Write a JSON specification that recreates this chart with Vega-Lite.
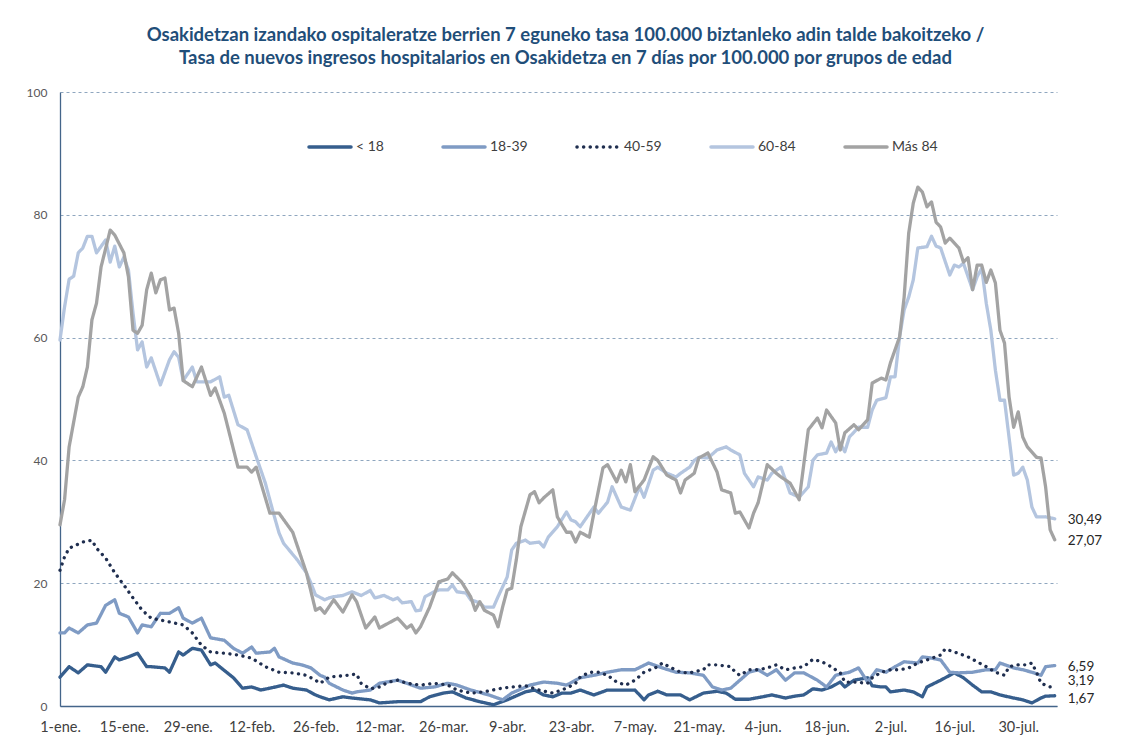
{
"$schema": "https://vega.github.io/schema/vega-lite/v6.json",
"width": 997, "height": 614,
"autosize": "none",
"padding": {"left": 60, "top": 92, "right": 67, "bottom": 31},
"background": "white",
"config": {
  "locale": {"number": {"decimal": ",", "thousands": ".", "grouping": [3], "currency": ["", " €"]}},
  "view": {"stroke": null},
  "font": "Lato"
},
"title": {"text": ["Osakidetzan izandako ospitaleratze berrien 7 eguneko tasa 100.000 biztanleko adin talde bakoitzeko /", "Tasa de nuevos ingresos hospitalarios en Osakidetza en 7 días por 100.000 por grupos de edad"], "fontSize": 18.5, "fontWeight": "bold", "color": "#1F4E79", "font": "Lato", "lineHeight": 23, "anchor": "middle", "offset": 19, "dx": 7},
"data": {"values": [
{"dia":0,"grupo":"< 18","tasa":4.7},{"dia":2,"grupo":"< 18","tasa":6.4},{"dia":4,"grupo":"< 18","tasa":5.4},{"dia":6,"grupo":"< 18","tasa":6.7},{"dia":9,"grupo":"< 18","tasa":6.4},{"dia":10,"grupo":"< 18","tasa":5.5},{"dia":12,"grupo":"< 18","tasa":8},{"dia":13,"grupo":"< 18","tasa":7.5},{"dia":15,"grupo":"< 18","tasa":8},{"dia":17,"grupo":"< 18","tasa":8.6},{"dia":19,"grupo":"< 18","tasa":6.4},{"dia":20,"grupo":"< 18","tasa":6.4},{"dia":23,"grupo":"< 18","tasa":6.2},{"dia":24,"grupo":"< 18","tasa":5.5},{"dia":26,"grupo":"< 18","tasa":8.8},{"dia":27,"grupo":"< 18","tasa":8.3},{"dia":29,"grupo":"< 18","tasa":9.4},{"dia":31,"grupo":"< 18","tasa":9.1},{"dia":33,"grupo":"< 18","tasa":6.7},{"dia":34,"grupo":"< 18","tasa":7},{"dia":38,"grupo":"< 18","tasa":4.6},{"dia":40,"grupo":"< 18","tasa":2.9},{"dia":42,"grupo":"< 18","tasa":3.1},{"dia":44,"grupo":"< 18","tasa":2.6},{"dia":46,"grupo":"< 18","tasa":2.9},{"dia":49,"grupo":"< 18","tasa":3.4},{"dia":51,"grupo":"< 18","tasa":2.9},{"dia":54,"grupo":"< 18","tasa":2.6},{"dia":56,"grupo":"< 18","tasa":1.8},{"dia":57,"grupo":"< 18","tasa":1.5},{"dia":59,"grupo":"< 18","tasa":1},{"dia":62,"grupo":"< 18","tasa":1.5},{"dia":64,"grupo":"< 18","tasa":1.3},{"dia":68,"grupo":"< 18","tasa":1},{"dia":70,"grupo":"< 18","tasa":0.5},{"dia":74,"grupo":"< 18","tasa":0.7},{"dia":79,"grupo":"< 18","tasa":0.7},{"dia":81,"grupo":"< 18","tasa":1.5},{"dia":84,"grupo":"< 18","tasa":2.1},{"dia":86,"grupo":"< 18","tasa":2.3},{"dia":89,"grupo":"< 18","tasa":1.3},{"dia":92,"grupo":"< 18","tasa":0.7},{"dia":95,"grupo":"< 18","tasa":0.2},{"dia":98,"grupo":"< 18","tasa":1},{"dia":102,"grupo":"< 18","tasa":2.3},{"dia":104,"grupo":"< 18","tasa":2.6},{"dia":106,"grupo":"< 18","tasa":1.8},{"dia":108,"grupo":"< 18","tasa":1.5},{"dia":110,"grupo":"< 18","tasa":2.1},{"dia":112,"grupo":"< 18","tasa":2.1},{"dia":114,"grupo":"< 18","tasa":2.6},{"dia":117,"grupo":"< 18","tasa":1.8},{"dia":120,"grupo":"< 18","tasa":2.6},{"dia":123,"grupo":"< 18","tasa":2.6},{"dia":126,"grupo":"< 18","tasa":2.6},{"dia":128,"grupo":"< 18","tasa":1},{"dia":129,"grupo":"< 18","tasa":1.8},{"dia":131,"grupo":"< 18","tasa":2.4},{"dia":133,"grupo":"< 18","tasa":1.8},{"dia":136,"grupo":"< 18","tasa":1.8},{"dia":138,"grupo":"< 18","tasa":1},{"dia":141,"grupo":"< 18","tasa":2.1},{"dia":144,"grupo":"< 18","tasa":2.4},{"dia":146,"grupo":"< 18","tasa":2.1},{"dia":148,"grupo":"< 18","tasa":1.1},{"dia":151,"grupo":"< 18","tasa":1.1},{"dia":154,"grupo":"< 18","tasa":1.5},{"dia":156,"grupo":"< 18","tasa":1.8},{"dia":159,"grupo":"< 18","tasa":1.3},{"dia":161,"grupo":"< 18","tasa":1.6},{"dia":163,"grupo":"< 18","tasa":1.8},{"dia":165,"grupo":"< 18","tasa":2.8},{"dia":167,"grupo":"< 18","tasa":2.6},{"dia":169,"grupo":"< 18","tasa":3.1},{"dia":171,"grupo":"< 18","tasa":3.9},{"dia":172,"grupo":"< 18","tasa":3.1},{"dia":174,"grupo":"< 18","tasa":4.2},{"dia":177,"grupo":"< 18","tasa":4.6},{"dia":178,"grupo":"< 18","tasa":3.3},{"dia":180,"grupo":"< 18","tasa":3.1},{"dia":181,"grupo":"< 18","tasa":3.1},{"dia":182,"grupo":"< 18","tasa":2.3},{"dia":185,"grupo":"< 18","tasa":2.6},{"dia":187,"grupo":"< 18","tasa":2.3},{"dia":189,"grupo":"< 18","tasa":1.5},{"dia":190,"grupo":"< 18","tasa":3.1},{"dia":193,"grupo":"< 18","tasa":4.2},{"dia":196,"grupo":"< 18","tasa":5.4},{"dia":198,"grupo":"< 18","tasa":4.6},{"dia":200,"grupo":"< 18","tasa":3.4},{"dia":202,"grupo":"< 18","tasa":2.3},{"dia":204,"grupo":"< 18","tasa":2.3},{"dia":206,"grupo":"< 18","tasa":1.8},{"dia":209,"grupo":"< 18","tasa":1.3},{"dia":211,"grupo":"< 18","tasa":1},{"dia":213,"grupo":"< 18","tasa":0.5},{"dia":215,"grupo":"< 18","tasa":1.3},{"dia":216,"grupo":"< 18","tasa":1.6},{"dia":218,"grupo":"< 18","tasa":1.67},
{"dia":0,"grupo":"18-39","tasa":11.9},{"dia":1,"grupo":"18-39","tasa":11.9},{"dia":2,"grupo":"18-39","tasa":12.7},{"dia":4,"grupo":"18-39","tasa":11.9},{"dia":6,"grupo":"18-39","tasa":13.2},{"dia":8,"grupo":"18-39","tasa":13.5},{"dia":10,"grupo":"18-39","tasa":16.4},{"dia":12,"grupo":"18-39","tasa":17.3},{"dia":13,"grupo":"18-39","tasa":15.1},{"dia":15,"grupo":"18-39","tasa":14.5},{"dia":17,"grupo":"18-39","tasa":11.9},{"dia":18,"grupo":"18-39","tasa":13.2},{"dia":20,"grupo":"18-39","tasa":12.9},{"dia":22,"grupo":"18-39","tasa":15.1},{"dia":23,"grupo":"18-39","tasa":15.1},{"dia":24,"grupo":"18-39","tasa":15.1},{"dia":26,"grupo":"18-39","tasa":16},{"dia":27,"grupo":"18-39","tasa":14.3},{"dia":29,"grupo":"18-39","tasa":13.5},{"dia":31,"grupo":"18-39","tasa":14.3},{"dia":33,"grupo":"18-39","tasa":11.1},{"dia":36,"grupo":"18-39","tasa":10.7},{"dia":38,"grupo":"18-39","tasa":9.4},{"dia":40,"grupo":"18-39","tasa":8.6},{"dia":42,"grupo":"18-39","tasa":9.6},{"dia":43,"grupo":"18-39","tasa":8.6},{"dia":46,"grupo":"18-39","tasa":8.8},{"dia":47,"grupo":"18-39","tasa":9.4},{"dia":48,"grupo":"18-39","tasa":8},{"dia":51,"grupo":"18-39","tasa":7},{"dia":53,"grupo":"18-39","tasa":6.7},{"dia":55,"grupo":"18-39","tasa":6.2},{"dia":57,"grupo":"18-39","tasa":5},{"dia":58,"grupo":"18-39","tasa":4.7},{"dia":59,"grupo":"18-39","tasa":3.7},{"dia":62,"grupo":"18-39","tasa":2.6},{"dia":64,"grupo":"18-39","tasa":2.1},{"dia":65,"grupo":"18-39","tasa":2.3},{"dia":68,"grupo":"18-39","tasa":2.6},{"dia":70,"grupo":"18-39","tasa":3.7},{"dia":74,"grupo":"18-39","tasa":4.2},{"dia":76,"grupo":"18-39","tasa":3.7},{"dia":79,"grupo":"18-39","tasa":2.9},{"dia":82,"grupo":"18-39","tasa":3.1},{"dia":85,"grupo":"18-39","tasa":3.7},{"dia":87,"grupo":"18-39","tasa":3.4},{"dia":90,"grupo":"18-39","tasa":2.6},{"dia":94,"grupo":"18-39","tasa":1.8},{"dia":97,"grupo":"18-39","tasa":1},{"dia":99,"grupo":"18-39","tasa":2.1},{"dia":103,"grupo":"18-39","tasa":3.4},{"dia":106,"grupo":"18-39","tasa":3.9},{"dia":109,"grupo":"18-39","tasa":3.7},{"dia":111,"grupo":"18-39","tasa":3.4},{"dia":114,"grupo":"18-39","tasa":4.6},{"dia":117,"grupo":"18-39","tasa":5},{"dia":120,"grupo":"18-39","tasa":5.5},{"dia":123,"grupo":"18-39","tasa":5.9},{"dia":126,"grupo":"18-39","tasa":5.9},{"dia":129,"grupo":"18-39","tasa":7},{"dia":132,"grupo":"18-39","tasa":6.2},{"dia":135,"grupo":"18-39","tasa":5.5},{"dia":138,"grupo":"18-39","tasa":5.4},{"dia":141,"grupo":"18-39","tasa":5},{"dia":143,"grupo":"18-39","tasa":3.1},{"dia":145,"grupo":"18-39","tasa":2.6},{"dia":147,"grupo":"18-39","tasa":2.9},{"dia":149,"grupo":"18-39","tasa":4.2},{"dia":151,"grupo":"18-39","tasa":5.5},{"dia":153,"grupo":"18-39","tasa":5.9},{"dia":155,"grupo":"18-39","tasa":5},{"dia":157,"grupo":"18-39","tasa":5.9},{"dia":159,"grupo":"18-39","tasa":4.2},{"dia":161,"grupo":"18-39","tasa":5.4},{"dia":163,"grupo":"18-39","tasa":5.4},{"dia":166,"grupo":"18-39","tasa":4.2},{"dia":168,"grupo":"18-39","tasa":3.1},{"dia":170,"grupo":"18-39","tasa":5},{"dia":173,"grupo":"18-39","tasa":5.5},{"dia":175,"grupo":"18-39","tasa":6.2},{"dia":177,"grupo":"18-39","tasa":3.9},{"dia":179,"grupo":"18-39","tasa":5.9},{"dia":181,"grupo":"18-39","tasa":5.5},{"dia":183,"grupo":"18-39","tasa":6.4},{"dia":185,"grupo":"18-39","tasa":7.2},{"dia":188,"grupo":"18-39","tasa":7},{"dia":189,"grupo":"18-39","tasa":8},{"dia":191,"grupo":"18-39","tasa":7.8},{"dia":193,"grupo":"18-39","tasa":7.5},{"dia":195,"grupo":"18-39","tasa":5.5},{"dia":197,"grupo":"18-39","tasa":5.4},{"dia":200,"grupo":"18-39","tasa":5.5},{"dia":203,"grupo":"18-39","tasa":5.9},{"dia":205,"grupo":"18-39","tasa":5.9},{"dia":206,"grupo":"18-39","tasa":7},{"dia":209,"grupo":"18-39","tasa":6.2},{"dia":211,"grupo":"18-39","tasa":5.9},{"dia":213,"grupo":"18-39","tasa":5.5},{"dia":215,"grupo":"18-39","tasa":5},{"dia":216,"grupo":"18-39","tasa":6.4},{"dia":218,"grupo":"18-39","tasa":6.59},
{"dia":0,"grupo":"40-59","tasa":22.1},{"dia":1,"grupo":"40-59","tasa":24.3},{"dia":2,"grupo":"40-59","tasa":25.7},{"dia":5,"grupo":"40-59","tasa":26.7},{"dia":7,"grupo":"40-59","tasa":27},{"dia":8,"grupo":"40-59","tasa":25.7},{"dia":10,"grupo":"40-59","tasa":24.1},{"dia":12,"grupo":"40-59","tasa":21.7},{"dia":14,"grupo":"40-59","tasa":19.7},{"dia":16,"grupo":"40-59","tasa":17.6},{"dia":18,"grupo":"40-59","tasa":15.6},{"dia":20,"grupo":"40-59","tasa":14.3},{"dia":22,"grupo":"40-59","tasa":14},{"dia":24,"grupo":"40-59","tasa":13.7},{"dia":27,"grupo":"40-59","tasa":13.2},{"dia":29,"grupo":"40-59","tasa":11.9},{"dia":31,"grupo":"40-59","tasa":9.9},{"dia":33,"grupo":"40-59","tasa":8.8},{"dia":36,"grupo":"40-59","tasa":8.6},{"dia":39,"grupo":"40-59","tasa":8.3},{"dia":42,"grupo":"40-59","tasa":7.8},{"dia":45,"grupo":"40-59","tasa":6.4},{"dia":48,"grupo":"40-59","tasa":5.5},{"dia":51,"grupo":"40-59","tasa":5.4},{"dia":54,"grupo":"40-59","tasa":5},{"dia":56,"grupo":"40-59","tasa":4.2},{"dia":57,"grupo":"40-59","tasa":3.7},{"dia":59,"grupo":"40-59","tasa":4.7},{"dia":63,"grupo":"40-59","tasa":5},{"dia":65,"grupo":"40-59","tasa":5.2},{"dia":66,"grupo":"40-59","tasa":3.7},{"dia":68,"grupo":"40-59","tasa":2.8},{"dia":70,"grupo":"40-59","tasa":3.1},{"dia":72,"grupo":"40-59","tasa":3.9},{"dia":74,"grupo":"40-59","tasa":4.2},{"dia":76,"grupo":"40-59","tasa":3.7},{"dia":79,"grupo":"40-59","tasa":3.4},{"dia":82,"grupo":"40-59","tasa":3.7},{"dia":85,"grupo":"40-59","tasa":3.4},{"dia":87,"grupo":"40-59","tasa":2.6},{"dia":90,"grupo":"40-59","tasa":2.1},{"dia":93,"grupo":"40-59","tasa":2.3},{"dia":96,"grupo":"40-59","tasa":2.8},{"dia":99,"grupo":"40-59","tasa":3.1},{"dia":102,"grupo":"40-59","tasa":3.3},{"dia":105,"grupo":"40-59","tasa":2.6},{"dia":108,"grupo":"40-59","tasa":2.1},{"dia":111,"grupo":"40-59","tasa":2.9},{"dia":113,"grupo":"40-59","tasa":3.7},{"dia":114,"grupo":"40-59","tasa":4.7},{"dia":116,"grupo":"40-59","tasa":5.5},{"dia":118,"grupo":"40-59","tasa":5.5},{"dia":120,"grupo":"40-59","tasa":5},{"dia":122,"grupo":"40-59","tasa":3.9},{"dia":124,"grupo":"40-59","tasa":3.4},{"dia":126,"grupo":"40-59","tasa":4.2},{"dia":128,"grupo":"40-59","tasa":5.5},{"dia":131,"grupo":"40-59","tasa":6.4},{"dia":132,"grupo":"40-59","tasa":7},{"dia":134,"grupo":"40-59","tasa":6.2},{"dia":136,"grupo":"40-59","tasa":5.5},{"dia":138,"grupo":"40-59","tasa":5.4},{"dia":141,"grupo":"40-59","tasa":5.9},{"dia":142,"grupo":"40-59","tasa":6.7},{"dia":144,"grupo":"40-59","tasa":6.7},{"dia":147,"grupo":"40-59","tasa":6.4},{"dia":148,"grupo":"40-59","tasa":5.5},{"dia":149,"grupo":"40-59","tasa":5},{"dia":151,"grupo":"40-59","tasa":5.9},{"dia":153,"grupo":"40-59","tasa":5.9},{"dia":155,"grupo":"40-59","tasa":6.2},{"dia":157,"grupo":"40-59","tasa":6.7},{"dia":159,"grupo":"40-59","tasa":5.9},{"dia":161,"grupo":"40-59","tasa":6.2},{"dia":163,"grupo":"40-59","tasa":6.4},{"dia":165,"grupo":"40-59","tasa":7.6},{"dia":167,"grupo":"40-59","tasa":7.2},{"dia":169,"grupo":"40-59","tasa":6.4},{"dia":171,"grupo":"40-59","tasa":5.4},{"dia":172,"grupo":"40-59","tasa":3.9},{"dia":174,"grupo":"40-59","tasa":3.9},{"dia":177,"grupo":"40-59","tasa":3.7},{"dia":178,"grupo":"40-59","tasa":4.6},{"dia":180,"grupo":"40-59","tasa":5.5},{"dia":182,"grupo":"40-59","tasa":5.9},{"dia":184,"grupo":"40-59","tasa":5.9},{"dia":186,"grupo":"40-59","tasa":6.2},{"dia":188,"grupo":"40-59","tasa":7},{"dia":190,"grupo":"40-59","tasa":7.5},{"dia":193,"grupo":"40-59","tasa":8.3},{"dia":194,"grupo":"40-59","tasa":9.3},{"dia":196,"grupo":"40-59","tasa":8.8},{"dia":199,"grupo":"40-59","tasa":8},{"dia":201,"grupo":"40-59","tasa":7.2},{"dia":203,"grupo":"40-59","tasa":6.4},{"dia":205,"grupo":"40-59","tasa":5.5},{"dia":207,"grupo":"40-59","tasa":5},{"dia":208,"grupo":"40-59","tasa":6.4},{"dia":210,"grupo":"40-59","tasa":6.7},{"dia":212,"grupo":"40-59","tasa":6.7},{"dia":213,"grupo":"40-59","tasa":7},{"dia":214,"grupo":"40-59","tasa":5.5},{"dia":215,"grupo":"40-59","tasa":3.7},{"dia":217,"grupo":"40-59","tasa":3.1},{"dia":218,"grupo":"40-59","tasa":3.19},
{"dia":0,"grupo":"60-84","tasa":59.6},{"dia":1,"grupo":"60-84","tasa":65},{"dia":2,"grupo":"60-84","tasa":69.5},{"dia":3,"grupo":"60-84","tasa":70},{"dia":4,"grupo":"60-84","tasa":73.8},{"dia":5,"grupo":"60-84","tasa":74.6},{"dia":6,"grupo":"60-84","tasa":76.5},{"dia":7,"grupo":"60-84","tasa":76.5},{"dia":8,"grupo":"60-84","tasa":73.8},{"dia":10,"grupo":"60-84","tasa":75.9},{"dia":11,"grupo":"60-84","tasa":72.3},{"dia":12,"grupo":"60-84","tasa":74.9},{"dia":13,"grupo":"60-84","tasa":71.5},{"dia":14,"grupo":"60-84","tasa":73.1},{"dia":15,"grupo":"60-84","tasa":71},{"dia":16,"grupo":"60-84","tasa":64},{"dia":17,"grupo":"60-84","tasa":58},{"dia":18,"grupo":"60-84","tasa":59.3},{"dia":19,"grupo":"60-84","tasa":55.2},{"dia":20,"grupo":"60-84","tasa":56.7},{"dia":22,"grupo":"60-84","tasa":52.3},{"dia":24,"grupo":"60-84","tasa":56.4},{"dia":25,"grupo":"60-84","tasa":57.7},{"dia":26,"grupo":"60-84","tasa":56.8},{"dia":27,"grupo":"60-84","tasa":53},{"dia":29,"grupo":"60-84","tasa":55.2},{"dia":30,"grupo":"60-84","tasa":52.8},{"dia":33,"grupo":"60-84","tasa":52.8},{"dia":35,"grupo":"60-84","tasa":53.6},{"dia":36,"grupo":"60-84","tasa":50.3},{"dia":37,"grupo":"60-84","tasa":50.6},{"dia":39,"grupo":"60-84","tasa":45.8},{"dia":41,"grupo":"60-84","tasa":45},{"dia":43,"grupo":"60-84","tasa":40.6},{"dia":45,"grupo":"60-84","tasa":36.3},{"dia":47,"grupo":"60-84","tasa":30.8},{"dia":48,"grupo":"60-84","tasa":28.2},{"dia":49,"grupo":"60-84","tasa":26.5},{"dia":52,"grupo":"60-84","tasa":23.8},{"dia":54,"grupo":"60-84","tasa":21.7},{"dia":55,"grupo":"60-84","tasa":20},{"dia":56,"grupo":"60-84","tasa":18.1},{"dia":58,"grupo":"60-84","tasa":17.3},{"dia":59,"grupo":"60-84","tasa":17.6},{"dia":60,"grupo":"60-84","tasa":17.8},{"dia":62,"grupo":"60-84","tasa":18},{"dia":64,"grupo":"60-84","tasa":18.6},{"dia":66,"grupo":"60-84","tasa":18},{"dia":68,"grupo":"60-84","tasa":18.8},{"dia":69,"grupo":"60-84","tasa":17.6},{"dia":71,"grupo":"60-84","tasa":18},{"dia":73,"grupo":"60-84","tasa":17.3},{"dia":74,"grupo":"60-84","tasa":17.6},{"dia":75,"grupo":"60-84","tasa":16.8},{"dia":77,"grupo":"60-84","tasa":17},{"dia":78,"grupo":"60-84","tasa":15.5},{"dia":79,"grupo":"60-84","tasa":15.6},{"dia":80,"grupo":"60-84","tasa":17.8},{"dia":82,"grupo":"60-84","tasa":18.6},{"dia":83,"grupo":"60-84","tasa":18.9},{"dia":85,"grupo":"60-84","tasa":18.9},{"dia":86,"grupo":"60-84","tasa":19.7},{"dia":87,"grupo":"60-84","tasa":18.6},{"dia":89,"grupo":"60-84","tasa":18.4},{"dia":90,"grupo":"60-84","tasa":17.3},{"dia":92,"grupo":"60-84","tasa":16.8},{"dia":93,"grupo":"60-84","tasa":16.1},{"dia":95,"grupo":"60-84","tasa":16.1},{"dia":96,"grupo":"60-84","tasa":17.8},{"dia":98,"grupo":"60-84","tasa":21},{"dia":99,"grupo":"60-84","tasa":25.4},{"dia":100,"grupo":"60-84","tasa":26.5},{"dia":102,"grupo":"60-84","tasa":27},{"dia":103,"grupo":"60-84","tasa":26.5},{"dia":105,"grupo":"60-84","tasa":26.7},{"dia":106,"grupo":"60-84","tasa":25.9},{"dia":107,"grupo":"60-84","tasa":27.5},{"dia":109,"grupo":"60-84","tasa":29.2},{"dia":111,"grupo":"60-84","tasa":31.6},{"dia":112,"grupo":"60-84","tasa":30.3},{"dia":113,"grupo":"60-84","tasa":30},{"dia":114,"grupo":"60-84","tasa":29.2},{"dia":117,"grupo":"60-84","tasa":32.4},{"dia":118,"grupo":"60-84","tasa":31.4},{"dia":120,"grupo":"60-84","tasa":33.2},{"dia":121,"grupo":"60-84","tasa":35.7},{"dia":123,"grupo":"60-84","tasa":32.4},{"dia":125,"grupo":"60-84","tasa":31.9},{"dia":127,"grupo":"60-84","tasa":35.7},{"dia":128,"grupo":"60-84","tasa":34},{"dia":130,"grupo":"60-84","tasa":38.4},{"dia":131,"grupo":"60-84","tasa":38.9},{"dia":133,"grupo":"60-84","tasa":37.9},{"dia":135,"grupo":"60-84","tasa":37.3},{"dia":136,"grupo":"60-84","tasa":37.9},{"dia":138,"grupo":"60-84","tasa":38.9},{"dia":139,"grupo":"60-84","tasa":40},{"dia":140,"grupo":"60-84","tasa":40.5},{"dia":142,"grupo":"60-84","tasa":40.4},{"dia":144,"grupo":"60-84","tasa":41.7},{"dia":146,"grupo":"60-84","tasa":42.2},{"dia":147,"grupo":"60-84","tasa":41.7},{"dia":149,"grupo":"60-84","tasa":40.9},{"dia":150,"grupo":"60-84","tasa":37.9},{"dia":152,"grupo":"60-84","tasa":35.7},{"dia":153,"grupo":"60-84","tasa":37.3},{"dia":155,"grupo":"60-84","tasa":36.8},{"dia":156,"grupo":"60-84","tasa":37.9},{"dia":158,"grupo":"60-84","tasa":38.9},{"dia":159,"grupo":"60-84","tasa":36.8},{"dia":160,"grupo":"60-84","tasa":34.7},{"dia":162,"grupo":"60-84","tasa":34},{"dia":164,"grupo":"60-84","tasa":35.7},{"dia":165,"grupo":"60-84","tasa":40},{"dia":166,"grupo":"60-84","tasa":40.9},{"dia":168,"grupo":"60-84","tasa":41.2},{"dia":169,"grupo":"60-84","tasa":43},{"dia":170,"grupo":"60-84","tasa":41.4},{"dia":171,"grupo":"60-84","tasa":42.8},{"dia":172,"grupo":"60-84","tasa":41.4},{"dia":173,"grupo":"60-84","tasa":43.8},{"dia":175,"grupo":"60-84","tasa":45.4},{"dia":177,"grupo":"60-84","tasa":45.4},{"dia":178,"grupo":"60-84","tasa":48.2},{"dia":179,"grupo":"60-84","tasa":49.8},{"dia":181,"grupo":"60-84","tasa":50.2},{"dia":182,"grupo":"60-84","tasa":53.6},{"dia":183,"grupo":"60-84","tasa":53.6},{"dia":184,"grupo":"60-84","tasa":60.1},{"dia":185,"grupo":"60-84","tasa":64.5},{"dia":186,"grupo":"60-84","tasa":66.6},{"dia":187,"grupo":"60-84","tasa":69.4},{"dia":188,"grupo":"60-84","tasa":74.6},{"dia":190,"grupo":"60-84","tasa":74.8},{"dia":191,"grupo":"60-84","tasa":76.5},{"dia":192,"grupo":"60-84","tasa":74.9},{"dia":193,"grupo":"60-84","tasa":74.6},{"dia":195,"grupo":"60-84","tasa":70.2},{"dia":196,"grupo":"60-84","tasa":71.8},{"dia":197,"grupo":"60-84","tasa":71.5},{"dia":198,"grupo":"60-84","tasa":72.1},{"dia":200,"grupo":"60-84","tasa":67.8},{"dia":201,"grupo":"60-84","tasa":69.9},{"dia":202,"grupo":"60-84","tasa":71.3},{"dia":203,"grupo":"60-84","tasa":65.6},{"dia":204,"grupo":"60-84","tasa":61.2},{"dia":205,"grupo":"60-84","tasa":54.7},{"dia":206,"grupo":"60-84","tasa":49.8},{"dia":207,"grupo":"60-84","tasa":49.8},{"dia":209,"grupo":"60-84","tasa":37.6},{"dia":210,"grupo":"60-84","tasa":37.9},{"dia":211,"grupo":"60-84","tasa":38.9},{"dia":212,"grupo":"60-84","tasa":36.8},{"dia":213,"grupo":"60-84","tasa":32.4},{"dia":214,"grupo":"60-84","tasa":30.8},{"dia":216,"grupo":"60-84","tasa":30.8},{"dia":218,"grupo":"60-84","tasa":30.49},
{"dia":0,"grupo":"Más 84","tasa":29.5},{"dia":1,"grupo":"Más 84","tasa":33.6},{"dia":2,"grupo":"Más 84","tasa":42.2},{"dia":4,"grupo":"Más 84","tasa":50.3},{"dia":5,"grupo":"Más 84","tasa":52},{"dia":6,"grupo":"Más 84","tasa":55.2},{"dia":7,"grupo":"Más 84","tasa":62.9},{"dia":8,"grupo":"Más 84","tasa":65.6},{"dia":9,"grupo":"Más 84","tasa":71.5},{"dia":11,"grupo":"Más 84","tasa":77.5},{"dia":12,"grupo":"Más 84","tasa":76.7},{"dia":14,"grupo":"Más 84","tasa":73.8},{"dia":15,"grupo":"Más 84","tasa":69.9},{"dia":16,"grupo":"Más 84","tasa":61.2},{"dia":17,"grupo":"Más 84","tasa":60.7},{"dia":18,"grupo":"Más 84","tasa":62},{"dia":19,"grupo":"Más 84","tasa":67.8},{"dia":20,"grupo":"Más 84","tasa":70.5},{"dia":21,"grupo":"Más 84","tasa":67.3},{"dia":22,"grupo":"Más 84","tasa":69.4},{"dia":23,"grupo":"Más 84","tasa":69.7},{"dia":24,"grupo":"Más 84","tasa":64.5},{"dia":25,"grupo":"Más 84","tasa":64.8},{"dia":26,"grupo":"Más 84","tasa":60.7},{"dia":27,"grupo":"Más 84","tasa":53},{"dia":29,"grupo":"Más 84","tasa":52},{"dia":31,"grupo":"Más 84","tasa":55.2},{"dia":33,"grupo":"Más 84","tasa":50.6},{"dia":34,"grupo":"Más 84","tasa":51.8},{"dia":36,"grupo":"Más 84","tasa":47.7},{"dia":39,"grupo":"Más 84","tasa":38.9},{"dia":41,"grupo":"Más 84","tasa":38.9},{"dia":42,"grupo":"Más 84","tasa":38.1},{"dia":43,"grupo":"Más 84","tasa":38.9},{"dia":46,"grupo":"Más 84","tasa":31.4},{"dia":48,"grupo":"Más 84","tasa":31.4},{"dia":51,"grupo":"Más 84","tasa":28.3},{"dia":54,"grupo":"Más 84","tasa":21.7},{"dia":56,"grupo":"Más 84","tasa":15.6},{"dia":57,"grupo":"Más 84","tasa":16},{"dia":58,"grupo":"Más 84","tasa":15.1},{"dia":60,"grupo":"Más 84","tasa":17.3},{"dia":62,"grupo":"Más 84","tasa":15.3},{"dia":64,"grupo":"Más 84","tasa":18.1},{"dia":65,"grupo":"Más 84","tasa":17},{"dia":67,"grupo":"Más 84","tasa":12.7},{"dia":69,"grupo":"Más 84","tasa":14.5},{"dia":70,"grupo":"Más 84","tasa":12.7},{"dia":72,"grupo":"Más 84","tasa":13.5},{"dia":74,"grupo":"Más 84","tasa":14.3},{"dia":76,"grupo":"Más 84","tasa":12.7},{"dia":77,"grupo":"Más 84","tasa":13.2},{"dia":78,"grupo":"Más 84","tasa":11.9},{"dia":79,"grupo":"Más 84","tasa":12.9},{"dia":81,"grupo":"Más 84","tasa":16.1},{"dia":83,"grupo":"Más 84","tasa":20.2},{"dia":85,"grupo":"Más 84","tasa":20.7},{"dia":86,"grupo":"Más 84","tasa":21.7},{"dia":88,"grupo":"Más 84","tasa":20.2},{"dia":90,"grupo":"Más 84","tasa":17.8},{"dia":91,"grupo":"Más 84","tasa":15.6},{"dia":92,"grupo":"Más 84","tasa":17},{"dia":93,"grupo":"Más 84","tasa":15.6},{"dia":95,"grupo":"Más 84","tasa":14.8},{"dia":96,"grupo":"Más 84","tasa":12.9},{"dia":97,"grupo":"Más 84","tasa":16.1},{"dia":98,"grupo":"Más 84","tasa":18.9},{"dia":99,"grupo":"Más 84","tasa":19.2},{"dia":100,"grupo":"Más 84","tasa":23.8},{"dia":101,"grupo":"Más 84","tasa":29.2},{"dia":103,"grupo":"Más 84","tasa":34.4},{"dia":104,"grupo":"Más 84","tasa":34.9},{"dia":105,"grupo":"Más 84","tasa":33.1},{"dia":106,"grupo":"Más 84","tasa":33.9},{"dia":108,"grupo":"Más 84","tasa":35.2},{"dia":109,"grupo":"Más 84","tasa":30.8},{"dia":111,"grupo":"Más 84","tasa":28.3},{"dia":112,"grupo":"Más 84","tasa":28.3},{"dia":113,"grupo":"Más 84","tasa":26.7},{"dia":114,"grupo":"Más 84","tasa":28.3},{"dia":116,"grupo":"Más 84","tasa":27.5},{"dia":117,"grupo":"Más 84","tasa":31.4},{"dia":119,"grupo":"Más 84","tasa":38.8},{"dia":120,"grupo":"Más 84","tasa":39.3},{"dia":122,"grupo":"Más 84","tasa":36.5},{"dia":123,"grupo":"Más 84","tasa":38.4},{"dia":124,"grupo":"Más 84","tasa":36.5},{"dia":125,"grupo":"Más 84","tasa":39.3},{"dia":126,"grupo":"Más 84","tasa":34.9},{"dia":128,"grupo":"Más 84","tasa":36.8},{"dia":130,"grupo":"Más 84","tasa":40.6},{"dia":131,"grupo":"Más 84","tasa":40},{"dia":133,"grupo":"Más 84","tasa":37.6},{"dia":135,"grupo":"Más 84","tasa":36.8},{"dia":136,"grupo":"Más 84","tasa":34.7},{"dia":137,"grupo":"Más 84","tasa":36.8},{"dia":139,"grupo":"Más 84","tasa":37.9},{"dia":140,"grupo":"Más 84","tasa":40.4},{"dia":142,"grupo":"Más 84","tasa":41.2},{"dia":144,"grupo":"Más 84","tasa":38.1},{"dia":145,"grupo":"Más 84","tasa":35.2},{"dia":147,"grupo":"Más 84","tasa":34.7},{"dia":148,"grupo":"Más 84","tasa":31.4},{"dia":149,"grupo":"Más 84","tasa":31.6},{"dia":151,"grupo":"Más 84","tasa":29},{"dia":152,"grupo":"Más 84","tasa":31.4},{"dia":153,"grupo":"Más 84","tasa":33.1},{"dia":155,"grupo":"Más 84","tasa":39.3},{"dia":157,"grupo":"Más 84","tasa":37.9},{"dia":158,"grupo":"Más 84","tasa":37.3},{"dia":160,"grupo":"Más 84","tasa":36.3},{"dia":162,"grupo":"Más 84","tasa":33.6},{"dia":164,"grupo":"Más 84","tasa":45},{"dia":166,"grupo":"Más 84","tasa":46.9},{"dia":167,"grupo":"Más 84","tasa":45.3},{"dia":168,"grupo":"Más 84","tasa":48.2},{"dia":170,"grupo":"Más 84","tasa":46.1},{"dia":171,"grupo":"Más 84","tasa":41.7},{"dia":172,"grupo":"Más 84","tasa":44.5},{"dia":174,"grupo":"Más 84","tasa":45.8},{"dia":175,"grupo":"Más 84","tasa":45},{"dia":177,"grupo":"Más 84","tasa":46.6},{"dia":178,"grupo":"Más 84","tasa":52.6},{"dia":180,"grupo":"Más 84","tasa":53.4},{"dia":181,"grupo":"Más 84","tasa":53.1},{"dia":182,"grupo":"Más 84","tasa":55.9},{"dia":184,"grupo":"Más 84","tasa":60.1},{"dia":185,"grupo":"Más 84","tasa":66.6},{"dia":186,"grupo":"Más 84","tasa":77},{"dia":187,"grupo":"Más 84","tasa":81.9},{"dia":188,"grupo":"Más 84","tasa":84.5},{"dia":189,"grupo":"Más 84","tasa":83.7},{"dia":190,"grupo":"Más 84","tasa":81.3},{"dia":191,"grupo":"Más 84","tasa":82.1},{"dia":192,"grupo":"Más 84","tasa":78.8},{"dia":193,"grupo":"Más 84","tasa":78},{"dia":194,"grupo":"Más 84","tasa":75.4},{"dia":195,"grupo":"Más 84","tasa":76.2},{"dia":197,"grupo":"Más 84","tasa":74.6},{"dia":198,"grupo":"Más 84","tasa":72.3},{"dia":199,"grupo":"Más 84","tasa":73},{"dia":200,"grupo":"Más 84","tasa":67.8},{"dia":201,"grupo":"Más 84","tasa":71.8},{"dia":202,"grupo":"Más 84","tasa":71.8},{"dia":203,"grupo":"Más 84","tasa":69},{"dia":204,"grupo":"Más 84","tasa":71},{"dia":205,"grupo":"Más 84","tasa":68.9},{"dia":206,"grupo":"Más 84","tasa":61.2},{"dia":207,"grupo":"Más 84","tasa":59.1},{"dia":208,"grupo":"Más 84","tasa":50.3},{"dia":209,"grupo":"Más 84","tasa":45.4},{"dia":210,"grupo":"Más 84","tasa":47.9},{"dia":211,"grupo":"Más 84","tasa":43.8},{"dia":212,"grupo":"Más 84","tasa":42.2},{"dia":214,"grupo":"Más 84","tasa":40.5},{"dia":215,"grupo":"Más 84","tasa":40.4},{"dia":216,"grupo":"Más 84","tasa":35.7},{"dia":217,"grupo":"Más 84","tasa":28.7},{"dia":218,"grupo":"Más 84","tasa":27.07}
]},
"layer": [
  {
    "mark": {"type": "line", "strokeWidth": 3.3, "strokeCap": "round", "strokeJoin": "round"},
    "encoding": {
      "x": {"field": "dia", "type": "quantitative", "scale": {"domain": [0, 218.5], "nice": false, "zero": false},
        "axis": {"title": null, "values": [0,14,28,42,56,70,84,98,112,126,140,154,168,182,196,210], "labelExpr": "['1-ene.','15-ene.','29-ene.','12-feb.','26-feb.','12-mar.','26-mar.','9-abr.','23-abr.','7-may.','21-may.','4-jun.','18-jun.','2-jul.','16-jul.','30-jul.'][round(datum.value/14)]", "grid": false, "ticks": false, "domainColor": "#44658A", "domainWidth": 1.3, "labelFontSize": 14.5, "labelColor": "#404040", "labelPadding": 14, "labelFont": "Lato", "labelOverlap": false, "labelFlush": false}},
      "y": {"field": "tasa", "type": "quantitative", "scale": {"domain": [0, 100], "nice": false},
        "axis": {"title": null, "values": [0,20,40,60,80,100], "grid": true, "gridDash": [3,3], "gridColor": "#8FA6BF", "gridWidth": 1, "ticks": false, "domainColor": "#44658A", "domainWidth": 1.3, "labelFontSize": 12, "labelColor": "#595959", "labelPadding": 13, "labelFont": "Lato"}},
      "color": {"field": "grupo", "type": "nominal",
        "scale": {"domain": ["< 18", "18-39", "40-59", "60-84", "Más 84"], "range": ["#365E8D", "#7F9BC4", "#1F2E4F", "#B4C5DF", "#A3A3A3"]},
        "legend": {"title": null, "orient": "none", "legendX": 247, "legendY": 32, "direction": "horizontal", "columns": 5, "gridAlign": "all", "columnPadding": 34, "symbolType": "stroke", "symbolSize": 1764, "symbolStrokeWidth": 3.5, "labelFontSize": 14, "labelColor": "#404040", "labelFont": "Lato", "labelOffset": 3, "encode": {"symbols": {"update": {"strokeCap": {"value": "round"}}}}}},
      "strokeDash": {"field": "grupo", "type": "nominal",
        "scale": {"domain": ["< 18", "18-39", "40-59", "60-84", "Más 84"], "range": [[1,0],[1,0],[0.1,6.5],[1,0],[1,0]]},
        "legend": {"title": null, "orient": "none", "legendX": 247, "legendY": 32, "direction": "horizontal", "columns": 5, "gridAlign": "all", "columnPadding": 34, "symbolType": "stroke", "symbolSize": 1764, "symbolStrokeWidth": 3.5, "labelFontSize": 14, "labelColor": "#404040", "labelFont": "Lato", "labelOffset": 3, "encode": {"symbols": {"update": {"strokeCap": {"value": "round"}}}}}}
    }
  },
  {
    "transform": [{"filter": "datum.dia == 218 && (datum.grupo == '60-84' || datum.grupo == 'Más 84' || datum.grupo == '18-39')"}],
    "mark": {"type": "text", "align": "left", "baseline": "middle", "dx": 13, "dy": 1, "fontSize": 13.5, "color": "#262626", "font": "Lato"},
    "encoding": {
      "x": {"field": "dia", "type": "quantitative"},
      "y": {"field": "tasa", "type": "quantitative"},
      "text": {"field": "tasa", "type": "quantitative", "format": ".2f"}
    }
  },
  {
    "transform": [{"filter": "datum.dia == 218 && datum.grupo == '40-59'"}],
    "mark": {"type": "text", "align": "left", "baseline": "middle", "dx": 13, "dy": -5, "fontSize": 13.5, "color": "#262626", "font": "Lato"},
    "encoding": {
      "x": {"field": "dia", "type": "quantitative"},
      "y": {"field": "tasa", "type": "quantitative"},
      "text": {"field": "tasa", "type": "quantitative", "format": ".2f"}
    }
  },
  {
    "transform": [{"filter": "datum.dia == 218 && datum.grupo == '< 18'"}],
    "mark": {"type": "text", "align": "left", "baseline": "middle", "dx": 13, "dy": 3, "fontSize": 13.5, "color": "#262626", "font": "Lato"},
    "encoding": {
      "x": {"field": "dia", "type": "quantitative"},
      "y": {"field": "tasa", "type": "quantitative"},
      "text": {"field": "tasa", "type": "quantitative", "format": ".2f"}
    }
  }
]
}
